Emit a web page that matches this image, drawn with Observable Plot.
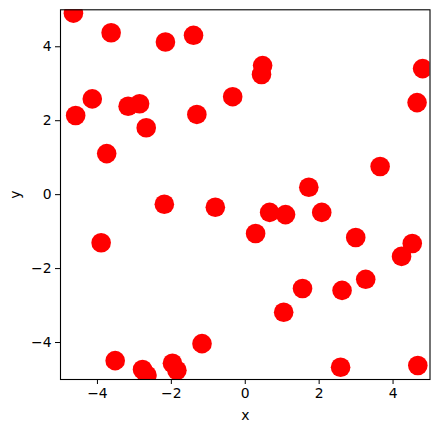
<!DOCTYPE html>
<html>
<head>
<meta charset="utf-8">
<script src="https://cdn.jsdelivr.net/npm/d3@7"></script>
<script src="https://cdn.jsdelivr.net/npm/@observablehq/plot@0.6"></script>
<style>
  html, body { margin: 0; padding: 0; background: white; }
</style>
</head>
<body>
<div id="chart"></div>
<script>
const xs = [-4.65, -3.63, -2.16, -1.40, -4.14, -4.59, -3.17, -2.86, -2.68, -1.31, -3.75, -2.19, -0.81,
            0.47, 0.44, -0.34, 4.80, 4.65, 3.65, 1.72, 0.66, 1.09, 2.07,
            0.28, 2.99, 4.52, 4.23, 3.26, 1.55, 2.62, 1.04, 2.58, 4.67,
            -3.90, -3.52, -2.78, -2.66, -1.97, -1.85, -1.17];
const ys = [4.91, 4.38, 4.13, 4.31, 2.59, 2.14, 2.39, 2.46, 1.81, 2.17, 1.11, -0.26, -0.34,
            3.49, 3.25, 2.65, 3.41, 2.49, 0.76, 0.20, -0.48, -0.54, -0.48,
            -1.05, -1.16, -1.32, -1.67, -2.29, -2.54, -2.59, -3.18, -4.67, -4.62,
            -1.30, -4.49, -4.73, -4.88, -4.56, -4.75, -4.03];
const xTicks = [-4, -2, 0, 2, 4];
const yTicks = [-4, -2, 0, 2, 4];
const xLabel = "x";
const yLabel = "y";

const data = xs.map((x, i) => ({x, y: ys[i]}));

const chart = Plot.plot({
  width: 439,
  height: 432,
  marginLeft: 60,
  marginRight: 9.5,
  marginTop: 9.3,
  marginBottom: 53,
  style: {fontFamily: "DejaVu Sans", fontSize: "13.9px", color: "black", background: "white", overflow: "visible"},
  x: {domain: [-5, 5]},
  y: {domain: [-5, 5]},
  marks: [
    Plot.dot(data, {x: "x", y: "y", r: 9.8, fill: "red", stroke: "none", clip: true}),
    Plot.frame({stroke: "black", strokeWidth: 1.1}),
    Plot.axisX({ticks: xTicks, tickSize: 5, tickPadding: 4, tickFormat: d3.format("d"),
      label: xLabel, labelAnchor: "center", labelOffset: 40, labelArrow: "none"}),
    Plot.axisY({ticks: yTicks, tickSize: 5, tickPadding: 4, tickFormat: d3.format("d"),
      label: yLabel, labelAnchor: "center", labelOffset: 50, labelArrow: "none"})
  ]
});
document.getElementById("chart").appendChild(chart);
</script>
</body>
</html>
